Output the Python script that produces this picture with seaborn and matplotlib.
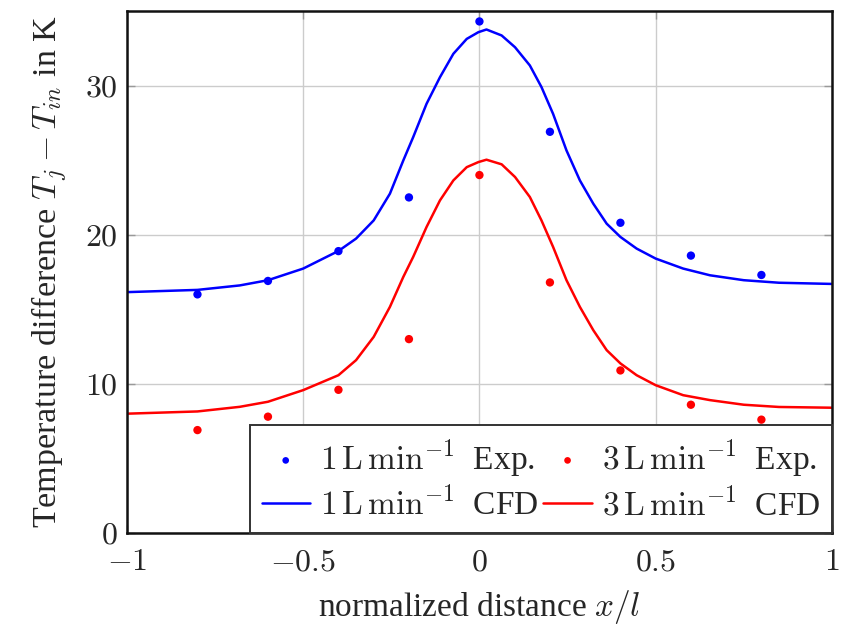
import numpy as np
import pandas as pd
import seaborn as sns
import matplotlib.pyplot as plt

# experimental points
x_exp = [-0.8, -0.6, -0.4, -0.2, 0.0, 0.2, 0.4, 0.6, 0.8]
exp_1 = [16.0, 16.9, 18.9, 22.5, 34.3, 26.9, 20.8, 18.6, 17.3]
exp_3 = [6.9, 7.8, 9.6, 13.0, 24.0, 16.8, 10.9, 8.6, 7.6]

# CFD curves
x_cfd = [-1.0, -0.8, -0.68, -0.6, -0.5, -0.4, -0.35, -0.3, -0.254, -0.216, -0.188, -0.15,
         -0.112, -0.074, -0.036, -0.003, 0.02, 0.063, 0.101, 0.143, 0.176, 0.209, 0.247,
         0.285, 0.323, 0.361, 0.4, 0.446, 0.5, 0.578, 0.654, 0.75, 0.85, 1.0]
cfd_1 = [16.15, 16.3, 16.6, 16.95, 17.73, 18.91, 19.74, 20.96, 22.75, 24.98, 26.54, 28.78,
         30.56, 32.13, 33.13, 33.58, 33.76, 33.36, 32.57, 31.35, 29.9, 28.1, 25.65,
         23.64, 22.08, 20.74, 19.85, 19.07, 18.4, 17.73, 17.28, 16.95, 16.78, 16.7]
cfd_3 = [8.0, 8.15, 8.46, 8.8, 9.58, 10.58, 11.59, 13.15, 15.16, 17.17, 18.51, 20.52,
         22.3, 23.64, 24.53, 24.87, 25.03, 24.72, 23.87, 22.53, 20.96, 19.18, 16.95,
         15.16, 13.6, 12.26, 11.37, 10.58, 9.91, 9.24, 8.91, 8.6, 8.45, 8.4]

sns.set_style("ticks")
plt.rcParams['font.family'] = ['Liberation Serif', 'DejaVu Serif']
plt.rcParams['mathtext.fontset'] = 'cm'
plt.rcParams['xtick.direction'] = 'in'
plt.rcParams['ytick.direction'] = 'in'

fig = plt.figure(figsize=(8.42, 6.25), dpi=100)
ax = fig.add_axes([0.1508, 0.1472, 0.8372, 0.8352])

lab1 = r'$1\,\mathrm{L\,min^{-1}}$  Exp.'
lab3 = r'$3\,\mathrm{L\,min^{-1}}$  Exp.'
lab1c = r'$1\,\mathrm{L\,min^{-1}}$  CFD'
lab3c = r'$3\,\mathrm{L\,min^{-1}}$  CFD'

sns.scatterplot(x=x_exp, y=exp_1, color='#0000ff', s=36, edgecolor='none', label=lab1, ax=ax, zorder=3)
sns.lineplot(x=x_cfd, y=cfd_1, color='#0000ff', lw=1.8, label=lab1c, ax=ax, zorder=2)
sns.scatterplot(x=x_exp, y=exp_3, color='#ff0000', s=36, edgecolor='none', label=lab3, ax=ax, zorder=3)
sns.lineplot(x=x_cfd, y=cfd_3, color='#ff0000', lw=1.8, label=lab3c, ax=ax, zorder=2)

ax.set_xlim(-1, 1)
ax.set_ylim(0, 35)
ax.set_xticks([-1, -0.5, 0, 0.5, 1])
ax.set_xticklabels(['$-1$', '$-0.5$', '$0$', '$0.5$', '$1$'])
ax.set_yticks([0, 10, 20, 30])
ax.set_yticklabels(['$0$', '$10$', '$20$', '$30$'])
ax.grid(True, color='#cccccc', lw=1.0)
ax.tick_params(labelsize=23, top=True, right=True, length=6, width=1.0, color='#999999')
ax.tick_params(axis='x', pad=11)
ax.tick_params(axis='y', pad=7)
for sp in ax.spines.values():
    sp.set_linewidth(1.8)
    sp.set_color('#111111')

ax.set_xlabel(r'normalized distance $x/l$', fontsize=24, labelpad=8)
ax.set_ylabel(r'Temperature difference $T_j - T_{in}$ in K', fontsize=24.5, labelpad=11)

handles, labels = ax.get_legend_handles_labels()
order = [labels.index(l) for l in [lab1, lab1c, lab3, lab3c]]
leg = ax.legend([handles[i] for i in order], [labels[i] for i in order], ncol=2,
                loc='lower right', bbox_to_anchor=(1.0, 0.0), fontsize=24,
                frameon=True, fancybox=False, framealpha=1, edgecolor='#333333',
                handlelength=1.45, handletextpad=0.3, columnspacing=0.15,
                borderaxespad=0.0, labelspacing=0.22, borderpad=0.35, markerscale=0.8)
leg.get_frame().set_linewidth(1.4)

fig.savefig('out.png', dpi=100)
